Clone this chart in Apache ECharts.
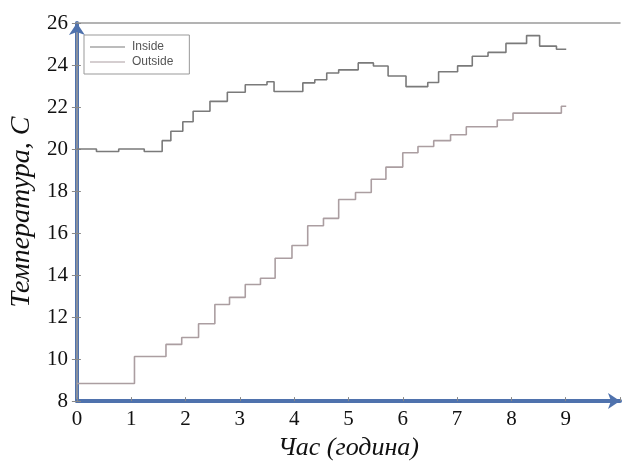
<!DOCTYPE html>
<html>
<head>
<meta charset="utf-8">
<script src="https://cdn.jsdelivr.net/npm/echarts@6/dist/echarts.min.js"></script>
<style>
html, body { margin: 0; padding: 0; background: #fff; }
#chart { width: 623px; height: 466px; }
</style>
</head>
<body>
<div id="chart"></div>
<script>
// step starts: time (hours) and temperature
var insideTime = [0, 0.36, 0.77, 1.24, 1.57, 1.73, 1.95, 2.14, 2.45, 2.77, 3.10, 3.50, 3.63, 4.16, 4.38, 4.60, 4.82, 5.18, 5.46, 5.73, 6.06, 6.46, 6.66, 7.01, 7.28, 7.57, 7.90, 8.28, 8.52, 8.83, 9.01];
var insideTemp = [20.0, 19.88, 20.0, 19.88, 20.4, 20.85, 21.3, 21.8, 22.27, 22.7, 23.06, 23.2, 22.74, 23.15, 23.3, 23.62, 23.77, 24.1, 23.95, 23.48, 22.97, 23.17, 23.68, 23.96, 24.42, 24.6, 25.03, 25.4, 24.9, 24.75, 24.75];

var outsideTime = [0, 1.06, 1.64, 1.93, 2.24, 2.54, 2.81, 3.10, 3.38, 3.65, 3.96, 4.25, 4.54, 4.82, 5.13, 5.42, 5.69, 6.00, 6.28, 6.57, 6.88, 7.17, 7.74, 8.03, 8.92, 9.01];
var outsideTemp = [8.84, 10.12, 10.7, 11.03, 11.68, 12.6, 12.94, 13.55, 13.85, 14.8, 15.41, 16.35, 16.7, 17.6, 17.93, 18.56, 19.14, 19.82, 20.12, 20.4, 20.68, 21.06, 21.38, 21.71, 22.04, 22.04];

var seriesNames = ['Inside', 'Outside'];
var xTickLabels = ['0', '1', '2', '3', '4', '5', '6', '7', '8', '9'];

function pairs(xs, ys) {
    var out = [];
    for (var i = 0; i < xs.length; i++) out.push([xs[i], ys[i]]);
    return out;
}

var blue = '#4f72ad';
var frame = '#9a9a9a';
var serif = 'Liberation Serif';

var myChart = echarts.init(document.getElementById('chart'));
myChart.setOption({
    backgroundColor: '#fff',
    animation: false,
    grid: { left: 75, right: 2, top: 23, bottom: 59 },
    legend: {
        orient: 'vertical',
        left: 84,
        top: 35,
        data: seriesNames,
        icon: 'rect',
        itemWidth: 35,
        itemHeight: 1.2,
        itemGap: 3,
        padding: [6, 16, 6, 6],
        borderColor: '#999',
        borderWidth: 1,
        textStyle: { fontFamily: 'Liberation Sans', fontSize: 12, color: '#555', padding: [0, 0, 0, 2] }
    },
    xAxis: [
        {
            type: 'value',
            min: 0,
            max: 10,
            interval: 1,
            splitLine: { show: false },
            axisLine: {
                show: true,
                symbol: ['none', 'arrow'],
                symbolSize: [12, 12],
                lineStyle: { color: blue, width: 4 }
            },
            axisTick: { inside: true, length: 4, lineStyle: { color: '#888' } },
            axisLabel: {
                margin: 8,
                fontFamily: serif,
                fontSize: 21,
                color: '#111',
                formatter: function (v) { return xTickLabels[v] || ''; }
            },
            name: 'Час (година)',
            nameLocation: 'middle',
            nameGap: 29,
            nameTextStyle: { fontFamily: serif, fontStyle: 'italic', fontSize: 26, color: '#111' }
        },
        {
            type: 'value',
            position: 'top',
            min: 0,
            max: 10,
            splitLine: { show: false },
            axisLine: { show: true, lineStyle: { color: frame, width: 1.5 } },
            axisTick: { show: false },
            axisLabel: { show: false }
        }
    ],
    yAxis: [
        {
            type: 'value',
            min: 8,
            max: 26,
            interval: 2,
            splitLine: { show: false },
            axisLine: {
                show: true,
                symbol: ['none', 'arrow'],
                symbolSize: [12, 12],
                lineStyle: { color: blue, width: 4 }
            },
            axisTick: { inside: true, length: 4, lineStyle: { color: '#888' } },
            axisLabel: { margin: 9, fontFamily: serif, fontSize: 21, color: '#111' },
            name: 'Температура, C',
            nameLocation: 'middle',
            nameRotate: 90,
            nameGap: 40,
            nameTextStyle: { fontFamily: serif, fontStyle: 'italic', fontSize: 28, color: '#111' }
        },
        {
            type: 'value',
            position: 'right',
            min: 8,
            max: 26,
            interval: 2,
            splitLine: { show: false },
            axisLine: { show: true, lineStyle: { color: frame, width: 1.5 } },
            axisTick: { inside: true, length: 5, lineStyle: { color: '#888' } },
            axisLabel: { show: false }
        }
    ],
    series: [
        {
            name: seriesNames[0],
            type: 'line',
            step: 'end',
            symbol: 'none',
            color: '#7a7a7a',
            lineStyle: { color: '#7a7a7a', width: 1.6 },
            data: pairs(insideTime, insideTemp)
        },
        {
            name: seriesNames[1],
            type: 'line',
            step: 'end',
            symbol: 'none',
            color: '#ab9ea1',
            lineStyle: { color: '#ab9ea1', width: 1.6 },
            data: pairs(outsideTime, outsideTemp)
        }
    ]
});
</script>
</body>
</html>
